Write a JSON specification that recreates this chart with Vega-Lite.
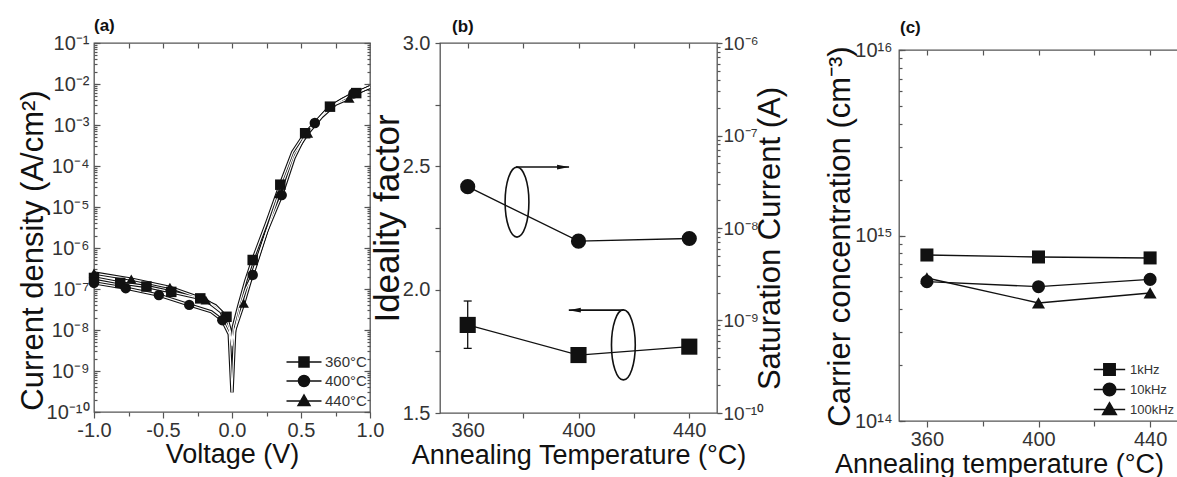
{
  "$schema": "https://vega.github.io/schema/vega-lite/v6.json",
  "autosize": {"type": "pad"},
  "padding": {"left": 16, "top": 16, "right": 0, "bottom": 0},
  "background": "white",
  "config": {
    "font": "Liberation Sans",
    "view": {"stroke": "#555", "strokeWidth": 1.3},
    "axis": {"domain": false, "grid": false, "labelFont": "Liberation Sans", "labelFontSize": 20, "labelColor": "#333", "titleFont": "Liberation Sans", "titleFontSize": 27, "titleFontWeight": "normal", "titleColor": "#111", "tickColor": "#555", "tickWidth": 1.2, "labelFlush": false, "labelOverlap": false},
    "title": {"font": "Liberation Sans", "fontSize": 17, "fontWeight": "bold", "anchor": "start", "frame": "group", "color": "#111"}
  },
  "datasets": {
    "aCurve": [
      {"series": "360°C", "V": -1.0, "J": 1.86e-7}, {"series": "360°C", "V": -0.81, "J": 1.41e-7}, {"series": "360°C", "V": -0.62, "J": 1.15e-7}, {"series": "360°C", "V": -0.44, "J": 8.5e-8}, {"series": "360°C", "V": -0.23, "J": 5.9e-8}, {"series": "360°C", "V": -0.12, "J": 3.9e-8}, {"series": "360°C", "V": -0.04, "J": 2.1e-8}, {"series": "360°C", "V": -0.01, "J": 9e-9}, {"series": "360°C", "V": 0.0, "J": 5e-9}, {"series": "360°C", "V": 0.01, "J": 1.2e-8}, {"series": "360°C", "V": 0.05, "J": 4.0e-8}, {"series": "360°C", "V": 0.1, "J": 1.6e-7}, {"series": "360°C", "V": 0.15, "J": 5.1e-7}, {"series": "360°C", "V": 0.25, "J": 4.0e-6}, {"series": "360°C", "V": 0.35, "J": 3.5e-5}, {"series": "360°C", "V": 0.44, "J": 2.2e-4}, {"series": "360°C", "V": 0.53, "J": 6.3e-4}, {"series": "360°C", "V": 0.62, "J": 1.3e-3}, {"series": "360°C", "V": 0.71, "J": 2.8e-3}, {"series": "360°C", "V": 0.8, "J": 4.2e-3}, {"series": "360°C", "V": 0.9, "J": 6.0e-3}, {"series": "360°C", "V": 1.0, "J": 8.5e-3},
      {"series": "400°C", "V": -1.0, "J": 1.41e-7}, {"series": "400°C", "V": -0.77, "J": 1.05e-7}, {"series": "400°C", "V": -0.53, "J": 7.1e-8}, {"series": "400°C", "V": -0.31, "J": 4.1e-8}, {"series": "400°C", "V": -0.15, "J": 2.8e-8}, {"series": "400°C", "V": -0.07, "J": 1.74e-8}, {"series": "400°C", "V": -0.02, "J": 7.9e-9}, {"series": "400°C", "V": 0.0, "J": 3e-10}, {"series": "400°C", "V": 0.02, "J": 1.0e-8}, {"series": "400°C", "V": 0.06, "J": 4.0e-8}, {"series": "400°C", "V": 0.1, "J": 1.0e-7}, {"series": "400°C", "V": 0.15, "J": 2.2e-7}, {"series": "400°C", "V": 0.25, "J": 2.5e-6}, {"series": "400°C", "V": 0.36, "J": 1.95e-5}, {"series": "400°C", "V": 0.45, "J": 1.6e-4}, {"series": "400°C", "V": 0.53, "J": 5.6e-4}, {"series": "400°C", "V": 0.6, "J": 1.12e-3}, {"series": "400°C", "V": 0.7, "J": 2.6e-3}, {"series": "400°C", "V": 0.8, "J": 4.2e-3}, {"series": "400°C", "V": 0.88, "J": 5.9e-3}, {"series": "400°C", "V": 1.0, "J": 8.3e-3},
      {"series": "440°C", "V": -1.0, "J": 2.45e-7}, {"series": "440°C", "V": -0.73, "J": 1.74e-7}, {"series": "440°C", "V": -0.45, "J": 1.1e-7}, {"series": "440°C", "V": -0.19, "J": 5.4e-8}, {"series": "440°C", "V": -0.08, "J": 2.8e-8}, {"series": "440°C", "V": -0.02, "J": 1.0e-8}, {"series": "440°C", "V": 0.0, "J": 4e-9}, {"series": "440°C", "V": 0.02, "J": 1.0e-8}, {"series": "440°C", "V": 0.085, "J": 4.5e-8}, {"series": "440°C", "V": 0.15, "J": 2.5e-7}, {"series": "440°C", "V": 0.25, "J": 2.5e-6}, {"series": "440°C", "V": 0.34, "J": 2.1e-5}, {"series": "440°C", "V": 0.45, "J": 2.0e-4}, {"series": "440°C", "V": 0.55, "J": 6.3e-4}, {"series": "440°C", "V": 0.65, "J": 1.6e-3}, {"series": "440°C", "V": 0.75, "J": 3.2e-3}, {"series": "440°C", "V": 0.85, "J": 4.5e-3}, {"series": "440°C", "V": 0.92, "J": 6.3e-3}, {"series": "440°C", "V": 1.0, "J": 8.5e-3}
    ],
    "aMark": [
      {"series": "360°C", "V": -1.0, "J": 1.86e-7}, {"series": "360°C", "V": -0.81, "J": 1.41e-7}, {"series": "360°C", "V": -0.62, "J": 1.15e-7}, {"series": "360°C", "V": -0.44, "J": 8.5e-8}, {"series": "360°C", "V": -0.23, "J": 5.9e-8}, {"series": "360°C", "V": -0.04, "J": 2.1e-8}, {"series": "360°C", "V": 0.15, "J": 5.1e-7}, {"series": "360°C", "V": 0.35, "J": 3.5e-5}, {"series": "360°C", "V": 0.53, "J": 6.3e-4}, {"series": "360°C", "V": 0.71, "J": 2.8e-3}, {"series": "360°C", "V": 0.9, "J": 6.0e-3},
      {"series": "400°C", "V": -1.0, "J": 1.41e-7}, {"series": "400°C", "V": -0.77, "J": 1.05e-7}, {"series": "400°C", "V": -0.53, "J": 7.1e-8}, {"series": "400°C", "V": -0.31, "J": 4.1e-8}, {"series": "400°C", "V": -0.07, "J": 1.74e-8}, {"series": "400°C", "V": 0.15, "J": 2.2e-7}, {"series": "400°C", "V": 0.36, "J": 1.95e-5}, {"series": "400°C", "V": 0.6, "J": 1.12e-3}, {"series": "400°C", "V": 0.88, "J": 5.9e-3},
      {"series": "440°C", "V": -1.0, "J": 2.45e-7}, {"series": "440°C", "V": -0.73, "J": 1.74e-7}, {"series": "440°C", "V": -0.45, "J": 1.1e-7}, {"series": "440°C", "V": -0.19, "J": 5.4e-8}, {"series": "440°C", "V": 0.085, "J": 4.5e-8}, {"series": "440°C", "V": 0.34, "J": 2.1e-5}, {"series": "440°C", "V": 0.55, "J": 6.3e-4}, {"series": "440°C", "V": 0.85, "J": 4.5e-3}
    ],
    "bIdeal": [
      {"T": 360, "n": 1.857, "lo": 1.762, "hi": 1.954},
      {"T": 400, "n": 1.735},
      {"T": 440, "n": 1.769}
    ],
    "bSat": [
      {"T": 360, "I": 2.8e-8},
      {"T": 400, "I": 7.2e-9},
      {"T": 440, "I": 7.7e-9}
    ],
    "bEll": [
      {"T": 377.8, "n": 2.355},
      {"T": 416.2, "n": 1.776}
    ],
    "bArrow": [
      {"T": 377.4, "T2": 396.6, "n": 2.497, "dir": "right"},
      {"T": 416.2, "T2": 396.5, "n": 1.917, "dir": "left"}
    ],
    "cConc": [
      {"series": "1kHz", "T": 360, "N": 7.85e14}, {"series": "1kHz", "T": 400, "N": 7.66e14}, {"series": "1kHz", "T": 440, "N": 7.57e14},
      {"series": "10kHz", "T": 360, "N": 5.64e14}, {"series": "10kHz", "T": 400, "N": 5.3e14}, {"series": "10kHz", "T": 440, "N": 5.8e14},
      {"series": "100kHz", "T": 360, "N": 5.9e14}, {"series": "100kHz", "T": 400, "N": 4.33e14}, {"series": "100kHz", "T": 440, "N": 4.9e14}
    ]
  },
  "bounds": "flush",
  "spacing": 70,
  "hconcat": [
    {
      "width": 276,
      "height": 369,
      "title": {"text": "(a)", "offset": -2},
      "layer": [
        {
          "data": {"name": "aCurve"},
          "mark": {"type": "line", "stroke": "#111", "strokeWidth": 3.4, "clip": true},
          "encoding": {
            "x": {"field": "V", "type": "quantitative", "scale": {"domain": [-1, 1], "nice": false},
                  "axis": {"orient": "bottom", "values": [-1, -0.5, 0, 0.5, 1], "labelExpr": "replace(format(datum.value, '.1f'), '−', '-')", "tickSize": 6, "labelPadding": 2, "title": "Voltage (V)", "titleY": 29}},
            "y": {"field": "J", "type": "quantitative", "scale": {"type": "log", "domain": [1e-10, 0.1], "nice": false},
                  "axis": {"orient": "left", "values": [1e-10, 1e-9, 1e-8, 1e-7, 1e-6, 1e-5, 1e-4, 1e-3, 1e-2, 1e-1], "labelExpr": "'10' + (datum.value < 1 ? '⁻' : '') + (abs(round(log(datum.value)/LN10)) >= 10 ? '¹' + ['⁰','¹','²','³','⁴','⁵','⁶','⁷','⁸','⁹'][abs(round(log(datum.value)/LN10)) - 10] : ['⁰','¹','²','³','⁴','⁵','⁶','⁷','⁸','⁹'][abs(round(log(datum.value)/LN10))])", "tickSize": -6, "labelPadding": 11, "title": "Current density (A/cm²)", "titleFontSize": 31, "titleX": -45, "titleY": 207}},
            "detail": {"field": "series"}
          }
        },
        {
          "data": {"name": "aCurve"},
          "mark": {"type": "line", "stroke": "white", "strokeWidth": 1.2, "clip": true},
          "encoding": {
            "x": {"field": "V", "type": "quantitative", "scale": {"domain": [-1, 1], "nice": false}, "axis": null},
            "y": {"field": "J", "type": "quantitative", "scale": {"type": "log", "domain": [1e-10, 0.1], "nice": false}, "axis": null},
            "detail": {"field": "series"}
          }
        },
        {
          "data": {"name": "aMark"},
          "mark": {"type": "point", "filled": true, "fill": "#111", "opacity": 1, "size": 110},
          "encoding": {
            "x": {"field": "V", "type": "quantitative", "scale": {"domain": [-1, 1], "nice": false}, "axis": null},
            "y": {"field": "J", "type": "quantitative", "scale": {"type": "log", "domain": [1e-10, 0.1], "nice": false}, "axis": null},
            "shape": {"field": "series", "type": "nominal", "scale": {"domain": ["360°C", "400°C", "440°C"], "range": ["square", "circle", "triangle-up"]}, "legend": null}
          }
        },
        {
          "data": {"name": "aMark"},
          "transform": [{"filter": "false"}],
          "mark": {"type": "point", "filled": true, "fill": "#111", "stroke": "#111", "strokeWidth": 1.5, "opacity": 1},
          "encoding": {
            "x": {"field": "V", "type": "quantitative", "scale": {"domain": [-1, 1], "nice": false}, "axis": null},
            "y": {"field": "J", "type": "quantitative", "scale": {"type": "log", "domain": [1e-10, 0.1], "nice": false}, "axis": null},
            "shape": {"field": "series", "type": "nominal",
                      "scale": {"domain": ["360°C", "400°C", "440°C"], "range": ["M-1.75,0H1.75M-0.5,-0.5H0.5V0.5H-0.5Z", "M-1.75,0H1.75M-0.55,0A0.55,0.55 0 1,0 0.55,0A0.55,0.55 0 1,0 -0.55,0Z", "M-1.75,0H1.75M-0.6,0.45L0,-0.6L0.6,0.45Z"]},
                      "legend": {"orient": "bottom-right", "offset": 3, "title": null, "symbolSize": 400, "labelOffset": 10, "labelFontSize": 15, "labelColor": "#333", "labelFont": "Liberation Sans", "rowPadding": 0, "padding": 0, "symbolOpacity": 1}}
          }
        },
        {
          "data": {"name": "aMark"},
          "transform": [{"filter": "false"}],
          "mark": "point",
          "encoding": {
            "x": {"field": "V", "type": "quantitative", "scale": {"domain": [-1, 1], "nice": false}, "axis": {"orient": "bottom", "values": [-0.75, -0.25, 0.25, 0.75], "labels": false, "tickSize": 4, "title": null}},
            "y": {"field": "J", "type": "quantitative", "scale": {"type": "log", "domain": [1e-10, 0.1], "nice": false}, "axis": {"orient": "left", "tickCount": 50, "labels": false, "tickSize": -3, "title": null}}
          }
        },
        {
          "data": {"name": "aMark"},
          "transform": [{"filter": "false"}],
          "mark": "point",
          "encoding": {
            "x": {"field": "V", "type": "quantitative", "scale": {"domain": [-1, 1], "nice": false}, "axis": {"orient": "top", "values": [-0.75, -0.5, -0.25, 0, 0.25, 0.5, 0.75], "labels": false, "tickSize": -5, "title": null}},
            "y": {"field": "J", "type": "quantitative", "scale": {"type": "log", "domain": [1e-10, 0.1], "nice": false}, "axis": {"orient": "right", "tickCount": 50, "labels": false, "tickSize": -3, "title": null}}
          }
        },
        {
          "data": {"name": "aMark"},
          "transform": [{"filter": "false"}],
          "mark": "point",
          "encoding": {
            "x": {"field": "V", "type": "quantitative", "scale": {"domain": [-1, 1], "nice": false}, "axis": null},
            "y": {"field": "J", "type": "quantitative", "scale": {"type": "log", "domain": [1e-10, 0.1], "nice": false}, "axis": {"orient": "right", "values": [1e-10, 1e-9, 1e-8, 1e-7, 1e-6, 1e-5, 1e-4, 1e-3, 1e-2, 1e-1], "labels": false, "tickSize": -6, "title": null}}
          }
        }
      ],
      "resolve": {"scale": {"shape": "independent"}, "axis": {"x": "independent", "y": "independent"}}
    },
    {
      "width": 277,
      "height": 370,
      "title": {"text": "(b)", "offset": -3, "dx": 12},
      "layer": [
        {
          "data": {"name": "bIdeal"},
          "mark": {"type": "line", "stroke": "#111", "strokeWidth": 1.3},
          "encoding": {
            "x": {"field": "T", "type": "quantitative", "scale": {"domain": [350, 450], "nice": false, "zero": false},
                  "axis": {"orient": "bottom", "values": [360, 400, 440], "tickSize": 5, "labelPadding": 2, "title": "Annealing Temperature (°C)", "titleY": 29}},
            "y": {"field": "n", "type": "quantitative", "scale": {"domain": [1.5, 3.0], "nice": false, "zero": false},
                  "axis": {"orient": "left", "values": [1.5, 2.0, 2.5, 3.0], "format": ".1f", "tickSize": 5, "labelPadding": 5, "title": "Ideality factor", "titleFontSize": 35, "titleX": -35, "titleY": 175}}
          }
        },
        {
          "data": {"name": "bIdeal"},
          "transform": [{"filter": "isValid(datum.lo)"}],
          "mark": {"type": "rule", "stroke": "#111", "strokeWidth": 1.3},
          "encoding": {
            "x": {"field": "T", "type": "quantitative", "scale": {"domain": [350, 450], "nice": false, "zero": false}, "axis": null},
            "y": {"field": "lo", "type": "quantitative", "scale": {"domain": [1.5, 3.0], "nice": false, "zero": false}, "axis": null},
            "y2": {"field": "hi"}
          }
        },
        {
          "data": {"name": "bIdeal"},
          "transform": [{"filter": "isValid(datum.lo)"}],
          "mark": {"type": "point", "shape": "M-1,0H1", "size": 64, "filled": false, "stroke": "#111", "strokeWidth": 1.3, "opacity": 1},
          "encoding": {
            "x": {"field": "T", "type": "quantitative", "scale": {"domain": [350, 450], "nice": false, "zero": false}, "axis": null},
            "y": {"field": "lo", "type": "quantitative", "scale": {"domain": [1.5, 3.0], "nice": false, "zero": false}, "axis": null}
          }
        },
        {
          "data": {"name": "bIdeal"},
          "transform": [{"filter": "isValid(datum.hi)"}],
          "mark": {"type": "point", "shape": "M-1,0H1", "size": 64, "filled": false, "stroke": "#111", "strokeWidth": 1.3, "opacity": 1},
          "encoding": {
            "x": {"field": "T", "type": "quantitative", "scale": {"domain": [350, 450], "nice": false, "zero": false}, "axis": null},
            "y": {"field": "hi", "type": "quantitative", "scale": {"domain": [1.5, 3.0], "nice": false, "zero": false}, "axis": null}
          }
        },
        {
          "data": {"name": "bIdeal"},
          "mark": {"type": "point", "shape": "square", "filled": true, "fill": "#111", "opacity": 1, "size": 260},
          "encoding": {
            "x": {"field": "T", "type": "quantitative", "scale": {"domain": [350, 450], "nice": false, "zero": false}, "axis": null},
            "y": {"field": "n", "type": "quantitative", "scale": {"domain": [1.5, 3.0], "nice": false, "zero": false}, "axis": null}
          }
        },
        {
          "data": {"name": "bEll"},
          "mark": {"type": "point", "shape": "M0,-1A0.34,1 0 1,1 0,1A0.34,1 0 1,1 0,-1Z", "size": 4900, "filled": false, "stroke": "#111", "strokeWidth": 1.6, "opacity": 1},
          "encoding": {
            "x": {"field": "T", "type": "quantitative", "scale": {"domain": [350, 450], "nice": false, "zero": false}, "axis": null},
            "y": {"field": "n", "type": "quantitative", "scale": {"domain": [1.5, 3.0], "nice": false, "zero": false}, "axis": null}
          }
        },
        {
          "data": {"name": "bArrow"},
          "mark": {"type": "rule", "stroke": "#111", "strokeWidth": 1.6},
          "encoding": {
            "x": {"field": "T", "type": "quantitative", "scale": {"domain": [350, 450], "nice": false, "zero": false}, "axis": null},
            "x2": {"field": "T2"},
            "y": {"field": "n", "type": "quantitative", "scale": {"domain": [1.5, 3.0], "nice": false, "zero": false}, "axis": null}
          }
        },
        {
          "data": {"name": "bArrow"},
          "transform": [{"filter": "datum.dir == 'right'"}],
          "mark": {"type": "point", "shape": "M0,0L-2,-0.4L-2,0.4Z", "size": 144, "filled": true, "fill": "#111", "opacity": 1},
          "encoding": {
            "x": {"field": "T2", "type": "quantitative", "scale": {"domain": [350, 450], "nice": false, "zero": false}, "axis": null},
            "y": {"field": "n", "type": "quantitative", "scale": {"domain": [1.5, 3.0], "nice": false, "zero": false}, "axis": null}
          }
        },
        {
          "data": {"name": "bArrow"},
          "transform": [{"filter": "datum.dir == 'left'"}],
          "mark": {"type": "point", "shape": "M0,0L2,-0.4L2,0.4Z", "size": 144, "filled": true, "fill": "#111", "opacity": 1},
          "encoding": {
            "x": {"field": "T2", "type": "quantitative", "scale": {"domain": [350, 450], "nice": false, "zero": false}, "axis": null},
            "y": {"field": "n", "type": "quantitative", "scale": {"domain": [1.5, 3.0], "nice": false, "zero": false}, "axis": null}
          }
        },
        {
          "data": {"name": "bIdeal"},
          "transform": [{"filter": "false"}],
          "mark": "point",
          "encoding": {
            "x": {"field": "T", "type": "quantitative", "scale": {"domain": [350, 450], "nice": false, "zero": false}, "axis": {"orient": "bottom", "values": [380, 420], "labels": false, "tickSize": 5, "title": null}},
            "y": {"field": "n", "type": "quantitative", "scale": {"domain": [1.5, 3.0], "nice": false, "zero": false}, "axis": {"orient": "left", "values": [1.75, 2.25, 2.75], "labels": false, "tickSize": 5, "title": null}}
          }
        },
        {
          "data": {"name": "bIdeal"},
          "transform": [{"filter": "false"}],
          "mark": "point",
          "encoding": {
            "x": {"field": "T", "type": "quantitative", "scale": {"domain": [350, 450], "nice": false, "zero": false}, "axis": {"orient": "top", "values": [360, 380, 400, 420, 440], "labels": false, "tickSize": -5, "title": null}},
            "y": {"field": "n", "type": "quantitative", "scale": {"domain": [1.5, 3.0], "nice": false, "zero": false}, "axis": null}
          }
        },
        {
          "data": {"name": "bSat"},
          "mark": {"type": "line", "stroke": "#111", "strokeWidth": 1.3},
          "encoding": {
            "x": {"field": "T", "type": "quantitative", "scale": {"domain": [350, 450], "nice": false, "zero": false}, "axis": null},
            "y": {"field": "I", "type": "quantitative", "scale": {"type": "log", "domain": [1e-10, 1e-6], "nice": false},
                  "axis": {"orient": "right", "values": [1e-10, 1e-9, 1e-8, 1e-7, 1e-6], "labelExpr": "'10' + (datum.value < 1 ? '⁻' : '') + (abs(round(log(datum.value)/LN10)) >= 10 ? '¹' + ['⁰','¹','²','³','⁴','⁵','⁶','⁷','⁸','⁹'][abs(round(log(datum.value)/LN10)) - 10] : ['⁰','¹','²','³','⁴','⁵','⁶','⁷','⁸','⁹'][abs(round(log(datum.value)/LN10))])", "tickSize": 5, "labelPadding": 1, "labelFontSize": 19, "title": "Saturation Current (A)", "titleFontSize": 31, "titleAngle": 270, "titleBaseline": "top", "titleX": 38, "titleY": 195}}
          }
        },
        {
          "data": {"name": "bSat"},
          "mark": {"type": "point", "shape": "circle", "filled": true, "fill": "#111", "opacity": 1, "size": 230},
          "encoding": {
            "x": {"field": "T", "type": "quantitative", "scale": {"domain": [350, 450], "nice": false, "zero": false}, "axis": null},
            "y": {"field": "I", "type": "quantitative", "scale": {"type": "log", "domain": [1e-10, 1e-6], "nice": false}, "axis": null}
          }
        },
        {
          "data": {"name": "bSat"},
          "transform": [{"filter": "false"}],
          "mark": "point",
          "encoding": {
            "x": {"field": "T", "type": "quantitative", "scale": {"domain": [350, 450], "nice": false, "zero": false}, "axis": null},
            "y": {"field": "I", "type": "quantitative", "scale": {"type": "log", "domain": [1e-10, 1e-6], "nice": false}, "axis": {"orient": "right", "tickCount": 20, "labels": false, "tickSize": 3, "title": null}}
          }
        }
      ],
      "resolve": {"scale": {"y": "independent"}, "axis": {"x": "independent", "y": "independent"}}
    },
    {
      "width": 42,
      "height": 10,
      "data": {"values": [{"k": 1}]},
      "mark": {"type": "point", "opacity": 0},
      "view": {"stroke": null}
    },
    {
      "bounds": "flush",
      "spacing": 6,
      "vconcat": [
        {
          "width": 279,
          "height": 1,
          "data": {"values": [{"k": 1}]},
          "mark": {"type": "point", "opacity": 0},
          "view": {"stroke": null}
        },
        {
          "width": 279,
          "height": 371,
          "title": {"text": "(c)", "offset": 3, "dx": 1},
          "layer": [
            {
              "data": {"name": "cConc"},
              "mark": {"type": "line", "stroke": "#111", "strokeWidth": 1.4},
              "encoding": {
                "x": {"field": "T", "type": "quantitative", "scale": {"domain": [350, 450], "nice": false, "zero": false},
                      "axis": {"orient": "bottom", "values": [360, 400, 440], "tickSize": 6, "labelPadding": 2, "title": "Annealing temperature (°C)", "titleX": 100, "titleY": 30}},
                "y": {"field": "N", "type": "quantitative", "scale": {"type": "log", "domain": [1e14, 1e16], "nice": false},
                      "axis": {"orient": "left", "values": [1e14, 1e15, 1e16], "labelExpr": "'10' + (datum.value < 1 ? '⁻' : '') + (abs(round(log(datum.value)/LN10)) >= 10 ? '¹' + ['⁰','¹','²','³','⁴','⁵','⁶','⁷','⁸','⁹'][abs(round(log(datum.value)/LN10)) - 10] : ['⁰','¹','²','³','⁴','⁵','⁶','⁷','⁸','⁹'][abs(round(log(datum.value)/LN10))])", "tickSize": -6, "labelPadding": 13, "title": "Carrier concentration (cm⁻³)", "titleFontSize": 31, "titleX": -43, "titleY": 186}},
                "detail": {"field": "series"}
              }
            },
            {
              "data": {"name": "cConc"},
              "mark": {"type": "point", "filled": true, "fill": "#111", "opacity": 1, "size": 170},
              "encoding": {
                "x": {"field": "T", "type": "quantitative", "scale": {"domain": [350, 450], "nice": false, "zero": false}, "axis": null},
                "y": {"field": "N", "type": "quantitative", "scale": {"type": "log", "domain": [1e14, 1e16], "nice": false}, "axis": null},
                "shape": {"field": "series", "type": "nominal", "scale": {"domain": ["1kHz", "10kHz", "100kHz"], "range": ["square", "circle", "triangle-up"]}, "legend": null}
              }
            },
            {
              "data": {"name": "cConc"},
              "transform": [{"filter": "false"}],
              "mark": {"type": "point", "filled": true, "fill": "#111", "stroke": "#111", "strokeWidth": 1.5, "opacity": 1},
              "encoding": {
                "x": {"field": "T", "type": "quantitative", "scale": {"domain": [350, 450], "nice": false, "zero": false}, "axis": null},
                "y": {"field": "N", "type": "quantitative", "scale": {"type": "log", "domain": [1e14, 1e16], "nice": false}, "axis": null},
                "shape": {"field": "series", "type": "nominal",
                          "scale": {"domain": ["1kHz", "10kHz", "100kHz"], "range": ["M-1.65,0H1.65M-0.6,-0.6H0.6V0.6H-0.6Z", "M-1.65,0H1.65M-0.66,0A0.66,0.66 0 1,0 0.66,0A0.66,0.66 0 1,0 -0.66,0Z", "M-1.65,0H1.65M-0.72,0.52L0,-0.72L0.72,0.52Z"]},
                          "legend": {"orient": "bottom-right", "offset": 3, "title": null, "symbolSize": 361, "labelOffset": 10, "labelFontSize": 13, "labelColor": "#333", "labelFont": "Liberation Sans", "rowPadding": 0, "padding": 0, "symbolOpacity": 1}}
              }
            },
            {
              "data": {"name": "cConc"},
              "transform": [{"filter": "false"}],
              "mark": "point",
              "encoding": {
                "x": {"field": "T", "type": "quantitative", "scale": {"domain": [350, 450], "nice": false, "zero": false}, "axis": {"orient": "bottom", "values": [380, 420], "labels": false, "tickSize": 5, "title": null}},
                "y": {"field": "N", "type": "quantitative", "scale": {"type": "log", "domain": [1e14, 1e16], "nice": false}, "axis": {"orient": "left", "tickCount": 20, "labels": false, "tickSize": -3, "title": null}}
              }
            },
            {
              "data": {"name": "cConc"},
              "transform": [{"filter": "false"}],
              "mark": "point",
              "encoding": {
                "x": {"field": "T", "type": "quantitative", "scale": {"domain": [350, 450], "nice": false, "zero": false}, "axis": {"orient": "top", "values": [360, 380, 400, 420, 440], "labels": false, "tickSize": -5, "title": null}},
                "y": {"field": "N", "type": "quantitative", "scale": {"type": "log", "domain": [1e14, 1e16], "nice": false}, "axis": null}
              }
            }
          ],
          "resolve": {"scale": {"shape": "independent"}, "axis": {"x": "independent", "y": "independent"}}
        }
      ]
    }
  ]
}
